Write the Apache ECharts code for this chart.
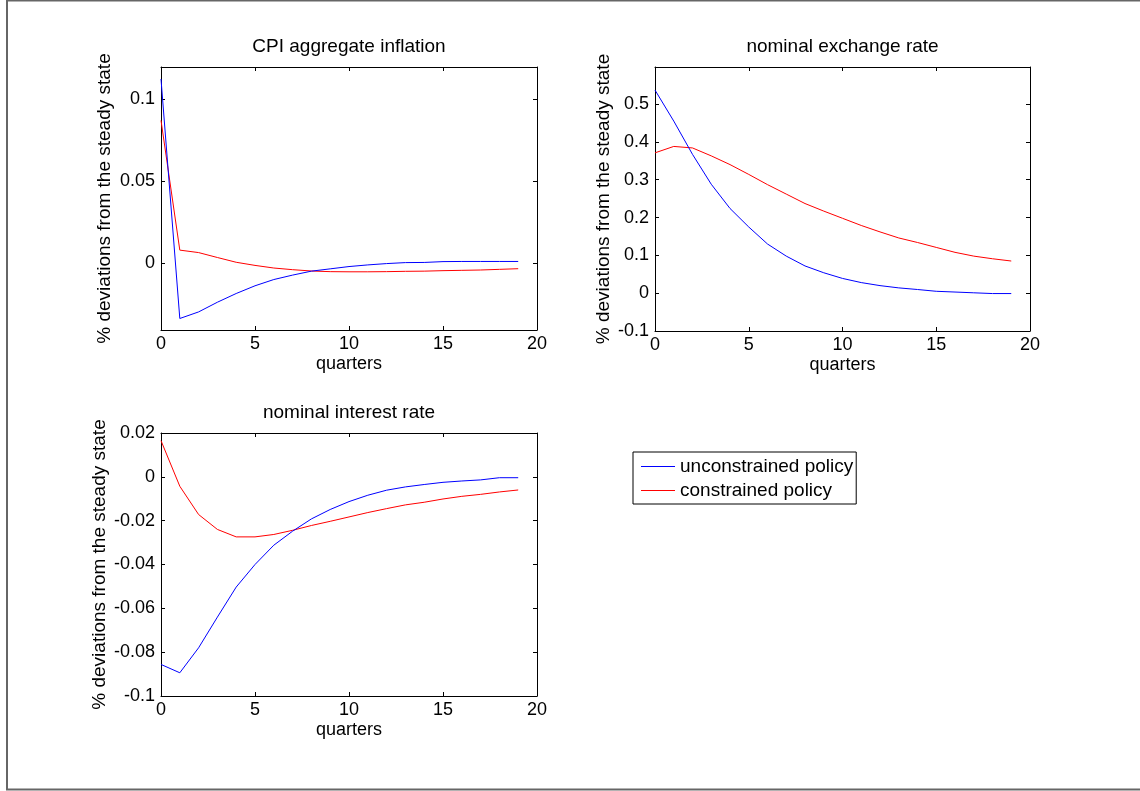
<!DOCTYPE html>
<html>
<head>
<meta charset="utf-8">
<script src="https://cdn.jsdelivr.net/npm/echarts@6/dist/echarts.min.js"></script>
<style>
html,body{margin:0;padding:0;background:#fff;}
#chart{width:1140px;height:791px;}
</style>
</head>
<body>
<div id="chart"></div>
<script>
// ---- data ----
const quarters = [0,1,2,3,4,5,6,7,8,9,10,11,12,13,14,15,16,17,18,19];
const seriesNames = ['unconstrained policy', 'constrained policy'];
const panelTitles = ['CPI aggregate inflation', 'nominal exchange rate', 'nominal interest rate'];

const cpiUnconstrained = [0.1122,-0.0335,-0.0295,-0.0236,-0.0183,-0.0136,-0.0098,-0.0071,-0.0047,-0.0033,-0.0019,-0.0009,-0.0001,0.0005,0.0006,0.0011,0.0012,0.0012,0.0012,0.0012];
const cpiConstrained   = [0.0870,0.0081,0.0066,0.0036,0.0007,-0.0012,-0.0028,-0.0038,-0.0046,-0.0050,-0.0051,-0.0051,-0.0050,-0.0048,-0.0047,-0.0044,-0.0042,-0.0040,-0.0036,-0.0032];

const fxUnconstrained = [0.537,0.455,0.367,0.288,0.224,0.175,0.130,0.098,0.072,0.054,0.039,0.028,0.020,0.014,0.0097,0.005,0.003,0.001,-0.001,-0.001];
const fxConstrained   = [0.371,0.388,0.384,0.363,0.340,0.314,0.287,0.262,0.237,0.217,0.198,0.179,0.162,0.146,0.134,0.121,0.108,0.098,0.091,0.085];

const irUnconstrained = [-0.0856,-0.0894,-0.0780,-0.0640,-0.0503,-0.0400,-0.0312,-0.0248,-0.0192,-0.0149,-0.0113,-0.0084,-0.0061,-0.0046,-0.0035,-0.0025,-0.0019,-0.0014,-0.0004,-0.0004];
const irConstrained   = [0.0165,-0.0043,-0.0172,-0.0240,-0.0274,-0.0274,-0.0263,-0.0244,-0.0222,-0.0203,-0.0183,-0.0163,-0.0145,-0.0128,-0.0116,-0.0101,-0.0089,-0.0080,-0.0069,-0.0060];

const cpiTicks = [0, 0.05, 0.1];
const fxTicks  = [-0.1, 0, 0.1, 0.2, 0.3, 0.4, 0.5];
const irTicks  = [-0.1, -0.08, -0.06, -0.04, -0.02, 0, 0.02];
const xLabelText = 'quarters';
const yLabelText = '% deviations from the steady state';

// ---- layout ----
const FONT = '"Liberation Sans", Arial, Helvetica, sans-serif';
const FS = 18;
const FS_BIG = 19;
const grids = [
  {left:161, top:67, width:376, height:263},
  {left:655, top:67, width:375, height:264},
  {left:161, top:433, width:376, height:263}
];
const yRanges = [
  {min:-0.0405, max:0.1195, ticks:cpiTicks, nameGap:47},
  {min:-0.1, max:0.598, ticks:fxTicks, nameGap:42},
  {min:-0.1, max:0.02, ticks:irTicks, nameGap:52}
];
const panelData = [
  [cpiUnconstrained, cpiConstrained],
  [fxUnconstrained, fxConstrained],
  [irUnconstrained, irConstrained]
];
const colors = ['#0000ff', '#ff0000'];

const axisLine = {show:true, onZero:false, lineStyle:{color:'#000', width:1}};
const xAxes = [], yAxes = [], series = [], titles = [];
grids.forEach((g, i) => {
  xAxes.push({
    type:'value', gridIndex:i, min:0, max:20, interval:5, position:'bottom',
    axisLine, axisTick:{show:true, inside:true, length:4, lineStyle:{color:'#000'}},
    axisLabel:{color:'#000', fontSize:FS, fontFamily:FONT, margin:5},
    splitLine:{show:false},
    name:xLabelText, nameLocation:'middle', nameGap:25,
    nameTextStyle:{color:'#000', fontSize:FS, fontFamily:FONT}
  });
  xAxes.push({
    type:'value', gridIndex:i, min:0, max:20, interval:5, position:'top',
    axisLine, axisTick:{show:true, inside:true, length:4, lineStyle:{color:'#000'}},
    axisLabel:{show:false}, splitLine:{show:false}
  });
  const yr = yRanges[i];
  yAxes.push({
    type:'value', gridIndex:i, min:yr.min, max:yr.max, position:'left',
    axisLine, axisTick:{show:true, inside:true, length:4, customValues:yr.ticks, lineStyle:{color:'#000'}},
    axisLabel:{color:'#000', fontSize:FS, fontFamily:FONT, margin:6, customValues:yr.ticks},
    splitLine:{show:false},
    name:yLabelText, nameLocation:'middle', nameGap:yr.nameGap, nameRotate:90,
    nameTextStyle:{color:'#000', fontSize:FS_BIG, fontFamily:FONT}
  });
  yAxes.push({
    type:'value', gridIndex:i, min:yr.min, max:yr.max, position:'right',
    axisLine, axisTick:{show:true, inside:true, length:4, customValues:yr.ticks, lineStyle:{color:'#000'}},
    axisLabel:{show:false, customValues:yr.ticks}, splitLine:{show:false}
  });
  panelData[i].forEach((vals, k) => {
    series.push({
      name:seriesNames[k], type:'line', xAxisIndex:2*i, yAxisIndex:2*i,
      data:quarters.map((q, j) => [q, vals[j]]),
      symbol:'none', lineStyle:{color:colors[k], width:1}, itemStyle:{color:colors[k]},
      z: k === 0 ? 3 : 2
    });
  });
  titles.push({
    text:panelTitles[i], left:g.left + g.width/2, top:g.top - 30, textAlign:'center', padding:0,
    textStyle:{color:'#000', fontSize:FS_BIG, fontWeight:'normal', fontFamily:FONT}
  });
});

const chart = echarts.init(document.getElementById('chart'), null, {renderer:'canvas'});
chart.setOption({
  animation:false,
  backgroundColor:'#fff',
  title:titles,
  grid:grids.map(g => Object.assign({containLabel:false}, g)),
  xAxis:xAxes,
  yAxis:yAxes,
  series:series,
  legend:{
    data:seriesNames, left:633, top:452, orient:'vertical', icon:'rect',
    padding:[5,3,4,8], itemGap:5, itemWidth:34, itemHeight:1,
    borderColor:'#000', borderWidth:1, backgroundColor:'#fff',
    textStyle:{color:'#000', fontSize:FS_BIG, fontFamily:FONT}, selectedMode:false
  },
  graphic:[
    {type:'polyline', silent:true, shape:{points:[[1140,0.5],[7,0.5],[7,789.5],[1140,789.5]]},
     style:{stroke:'#666', lineWidth:2, fill:null}}
  ]
});
</script>
</body>
</html>
